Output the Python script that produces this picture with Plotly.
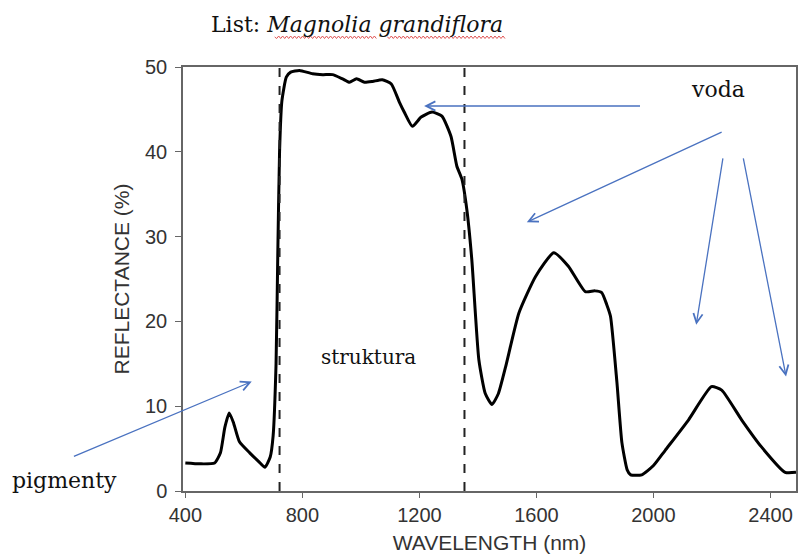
import plotly.graph_objects as go

wavelength = [400, 450, 500, 520, 535, 550, 565, 585, 620, 650, 672, 690, 700, 710, 716, 722, 730, 745,
              760, 790, 835, 870, 903, 937, 961, 985, 1012, 1040, 1073, 1104, 1131, 1148, 1176, 1206,
              1243, 1277, 1308, 1328, 1345, 1362, 1379, 1403, 1425, 1448, 1470, 1495, 1540, 1597, 1659,
              1709, 1767, 1800, 1823, 1840, 1853, 1875, 1892, 1910, 1922, 1960, 2000, 2040, 2120, 2198,
              2233, 2301, 2369, 2450, 2487]
reflectance = [3.3, 3.2, 3.3, 4.5, 7.5, 9.2, 8.0, 5.8, 4.5, 3.5, 2.8, 4.0, 6.5, 15, 28, 40, 46, 48.8,
               49.4, 49.6, 49.2, 49.1, 49.1, 48.6, 48.2, 48.6, 48.2, 48.3, 48.5, 48.0, 45.9, 44.7, 43.0, 44.1,
               44.7, 44.2, 41.8, 38.3, 36.8, 33.2, 27.3, 15.5, 11.5, 10.2, 11.5, 14.7, 21.0, 25.3, 28.1,
               26.5, 23.5, 23.6, 23.4, 22.0, 20.6, 12.8, 5.7, 2.5, 1.9, 1.9, 3.0, 4.8, 8.4, 12.3,
               11.9, 8.4, 5.2, 2.2, 2.2]
boundaries = [722, 1354]
x_ticks = [400, 800, 1200, 1600, 2000, 2400]
y_ticks = [0, 10, 20, 30, 40, 50]

W, H = 803, 556
ML, MR, MT, MB = 183, 5, 67, 65
PW, PH = W - ML - MR, H - MT - MB


def px(x):
    return (x - ML) / PW


def py(y):
    return (H - MB - y) / PH


fig = go.Figure()
fig.add_trace(go.Scatter(x=wavelength, y=reflectance, mode="lines",
                         line=dict(color="black", width=3, shape="spline", smoothing=0.5),
                         showlegend=False, hoverinfo="skip"))
for b in boundaries:
    fig.add_shape(type="line", x0=b, x1=b, y0=0, y1=50, xref="x", yref="y",
                  line=dict(color="#222", width=2, dash="dash"))

serif = "DejaVu Serif"
blue = "#4a72c0"
# arrows: (head_x, head_y, tail_x, tail_y) in data units
arrows = [(1216, 45.4, 1959, 45.4), (1567, 31.7, 2238, 42.4), (2146, 19.6, 2238, 39.4),
          (2453, 13.5, 2306, 39.4), (627, 12.9, 14, 4.0)]
for hx, hy, tx, ty in arrows:
    fig.add_annotation(x=hx, y=hy, ax=tx, ay=ty, xref="x", yref="y", axref="x", ayref="y",
                       text="", showarrow=True, arrowhead=5, arrowsize=1.4, arrowwidth=1.3,
                       arrowcolor=blue, standoff=0)

labels = [("voda", 720, 89, 22), ("struktura", 369, 357, 20), ("pigmenty", 64, 480, 22)]
for t, x, y, s in labels:
    fig.add_annotation(x=px(x), y=py(y), xref="paper", yref="paper", text=t, showarrow=False,
                       xanchor="center", yanchor="middle",
                       font=dict(family=serif, size=s, color="#111"))

fig.add_annotation(x=px(358), y=py(24), xref="paper", yref="paper",
                   text="List: <i>Magnolia grandiflora</i>", xanchor="center", yanchor="middle",
                   showarrow=False, font=dict(family=serif, size=22, color="#111"))

# spell-check wavy underline under the species name
for x0, x1 in [(275, 376), (388, 505)]:
    path = "M %.4f %.4f" % (px(x0), py(37))
    k = 0
    xx = x0
    while xx < x1:
        xx += 2
        k += 1
        path += " L %.4f %.4f" % (px(xx), py(37 + (1.5 if k % 2 else -1)))
    fig.add_shape(type="path", path=path, xref="paper", yref="paper",
                  line=dict(color="#e05555", width=1))

fig.update_layout(
    width=W, height=H, margin=dict(l=ML, r=MR, t=MT, b=MB),
    paper_bgcolor="white", plot_bgcolor="white",
    font=dict(family="Liberation Sans", color="#333"),
    xaxis=dict(range=[392, 2487], tickvals=x_ticks, ticks="outside", ticklen=5, tickcolor="#666",
               showline=True, linecolor="#666", linewidth=1.5, mirror=True, showgrid=False,
               zeroline=False, tickfont=dict(size=20, color="#333"),
               title=dict(text="WAVELENGTH (nm)", font=dict(size=21, color="#333"), standoff=11)),
    yaxis=dict(range=[0, 50], tickvals=y_ticks, ticks="outside", ticklen=6, tickcolor="#666",
               showline=True, linecolor="#666", linewidth=1.5, mirror=True, showgrid=False,
               zeroline=False, tickfont=dict(size=20, color="#333"), ticklabelstandoff=4,
               title=dict(text="REFLECTANCE (%)", font=dict(size=21, color="#333"), standoff=10)),
)

fig.write_html("out.html")
